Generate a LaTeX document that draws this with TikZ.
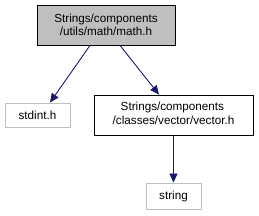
\documentclass[tikz,border=0pt]{standalone}
\usepackage{fontspec}
\setmainfont{Liberation Sans}
\usetikzlibrary{arrows.meta}
\definecolor{edgeblue}{HTML}{191970}
\definecolor{boxgray}{HTML}{BFBFBF}
\begin{document}
\begin{tikzpicture}[x=1pt,y=1pt,
  lbl/.style={inner sep=0pt,font=\fontsize{11.7}{13.5}\selectfont},
  box/.style={lbl,draw=black,line width=0.9pt},
  extbox/.style={lbl,draw=boxgray,line width=0.9pt},
  dep/.style={draw=edgeblue,line width=0.9pt,-{Triangle[length=9pt,width=8pt]}}]
\useasboundingbox (0,0) rectangle (259,216);
\node[box,align=center,fill=boxgray,minimum width=138pt,minimum height=40pt] (math) at (106,191) {Strings/components\\/utils/math/math.h};
\node[extbox,minimum width=65pt,minimum height=24pt] (stdint) at (37.5,101) {stdint.h};
\node[box,minimum width=159pt,minimum height=40pt] (vector) at (173.5,101) {\begin{tabular}{@{}l@{}}\hbox{\kern8pt Strings/components}\\/classes/vector/vector.h\end{tabular}};
\node[extbox,minimum width=55pt,minimum height=26pt] (string) at (173.5,20) {string};
\draw[dep] (math.south -| 90,0) -- (stdint.north -| 50,0);
\draw[dep] (math.south -| 120,0) -- (vector.north -| 159,0);
\draw[dep] (vector.south) -- (string.north);
\end{tikzpicture}
\end{document}
